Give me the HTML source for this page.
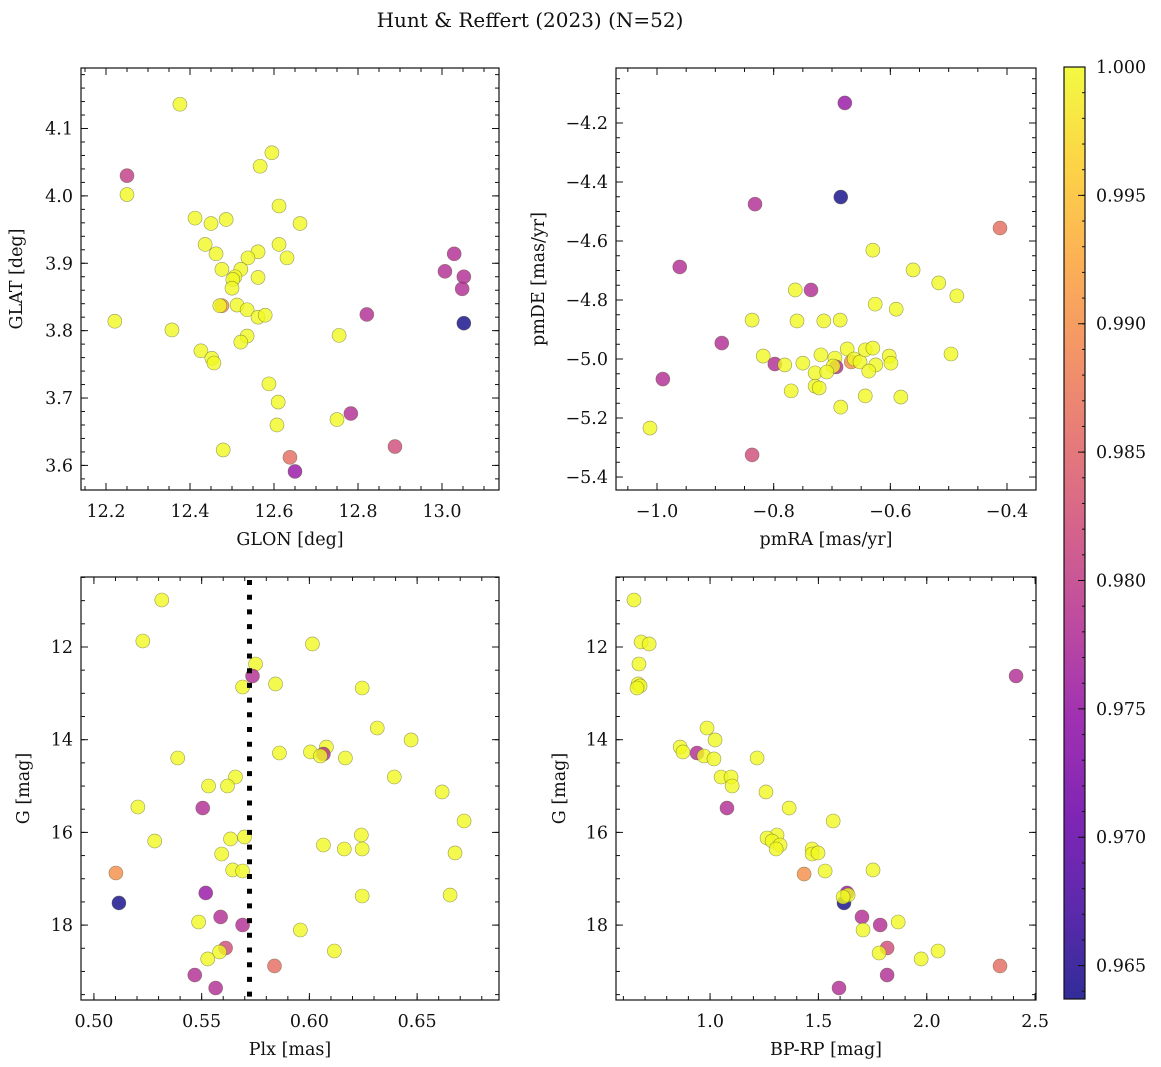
<!DOCTYPE html>
<html><head><meta charset="utf-8"><style>
html,body{margin:0;padding:0;background:#fff;}
svg{display:block;font-family:"DejaVu Serif","Liberation Serif",serif;}
</style></head><body>
<svg id="fig" width="1161" height="1067" viewBox="0 0 1161 1067" xmlns="http://www.w3.org/2000/svg">
<rect width="1161" height="1067" fill="#fff"/>
<text x="530" y="27" font-size="20" text-anchor="middle" fill="#111">Hunt &amp; Reffert (2023) (N=52)</text>
</svg>
<script>
// ---- data ----
const p1Glon=[12.376,12.250,12.250,12.595,12.567,12.612,12.412,12.450,12.486,12.662,12.436,12.462,12.612,12.562,12.538,12.631,12.476,12.521,12.507,12.502,12.562,12.500,12.476,12.471,12.512,12.536,12.562,12.579,12.536,12.521,12.221,12.357,12.426,12.452,12.457,12.588,12.610,12.607,12.479,12.638,12.650,12.755,12.750,12.783,12.821,12.888,13.029,13.007,13.052,13.048,13.052];
const p1Glat=[4.136,4.030,4.002,4.064,4.044,3.985,3.967,3.959,3.965,3.959,3.928,3.914,3.928,3.917,3.908,3.908,3.891,3.891,3.880,3.876,3.879,3.863,3.837,3.837,3.838,3.831,3.820,3.823,3.792,3.783,3.814,3.801,3.770,3.759,3.752,3.721,3.694,3.660,3.623,3.612,3.591,3.793,3.668,3.677,3.824,3.628,3.914,3.888,3.880,3.862,3.811];
const p1Prob=[1,0.980,1,1,1,1,1,1,1,1,1,1,1,1,1,1,1,1,1,1,1,1,0.990,1,1,1,1,1,1,1,1,1,1,1,1,1,1,1,1,0.986,0.975,1,1,0.978,0.978,0.982,0.978,0.978,0.978,0.978,0.9637];

const p2PmRA=[-0.678,-0.685,-0.832,-0.412,-0.630,-0.961,-0.561,-0.517,-0.486,-0.763,-0.736,-0.626,-0.590,-0.837,-0.760,-0.714,-0.686,-0.889,-0.496,-0.818,-0.798,-0.781,-0.750,-0.719,-0.695,-0.693,-0.698,-0.674,-0.667,-0.662,-0.652,-0.643,-0.630,-0.625,-0.637,-0.602,-0.599,-0.729,-0.709,-0.990,-0.729,-0.722,-0.770,-0.643,-0.582,-0.685,-1.012,-0.837];
const p2PmDE=[-4.132,-4.451,-4.475,-4.556,-4.631,-4.688,-4.698,-4.742,-4.786,-4.766,-4.766,-4.814,-4.831,-4.868,-4.871,-4.871,-4.868,-4.946,-4.983,-4.990,-5.017,-5.020,-5.014,-4.986,-4.997,-5.027,-5.024,-4.966,-5.010,-5.000,-5.010,-4.969,-4.963,-5.020,-5.041,-4.990,-5.014,-5.047,-5.044,-5.068,-5.092,-5.098,-5.108,-5.125,-5.129,-5.163,-5.234,-5.325];
const p2Prob=[0.975,0.9637,0.978,0.986,1,0.978,1,1,1,1,0.978,1,1,1,1,1,1,0.978,1,1,0.978,1,1,1,1,0.978,1,1,0.990,1,1,1,1,1,1,1,1,1,1,0.978,1,1,1,1,1,1,1,0.982];

const p3Plx=[0.5315,0.5227,0.6014,0.5750,0.5736,0.5690,0.5843,0.6245,0.6315,0.6472,0.5389,0.5861,0.6005,0.6079,0.6065,0.6051,0.6167,0.5657,0.5620,0.5532,0.6394,0.6616,0.5204,0.5505,0.6718,0.5282,0.5634,0.5699,0.6241,0.6065,0.6162,0.6245,0.6676,0.5593,0.5644,0.5690,0.5102,0.5116,0.5519,0.6245,0.6653,0.5588,0.5486,0.5690,0.5958,0.5611,0.5583,0.6116,0.5528,0.5838,0.5468,0.5565];
const p3G=[10.986,11.871,11.935,12.367,12.626,12.863,12.798,12.885,13.748,14.006,14.395,14.287,14.265,14.158,14.309,14.352,14.395,14.805,14.999,14.999,14.805,15.128,15.452,15.474,15.754,16.186,16.142,16.099,16.056,16.272,16.358,16.358,16.444,16.466,16.811,16.833,16.876,17.523,17.307,17.372,17.351,17.825,17.933,17.998,18.106,18.494,18.580,18.559,18.731,18.882,19.077,19.357];
const p3Prob=[1,1,1,1,0.978,1,1,1,1,1,1,1,1,1,0.978,1,1,1,1,1,1,1,1,0.978,1,1,1,1,1,1,1,1,1,1,1,1,0.990,0.9637,0.975,1,1,0.978,1,0.978,1,0.982,1,1,1,0.986,0.978,0.978];
const meanPlx=0.5722;

const p4BpRp=[0.649,0.682,0.719,0.672,0.668,0.677,0.663,2.412,0.986,1.023,0.862,0.875,0.940,0.972,1.018,1.217,1.051,1.097,1.102,1.258,1.078,1.365,1.568,1.309,1.263,1.286,1.323,1.305,1.471,1.471,1.498,1.434,1.531,1.752,1.632,1.618,1.637,1.614,1.701,1.706,1.785,1.868,1.817,1.780,1.974,2.052,2.338,1.817,1.595];
const p4G=[10.986,11.892,11.935,12.367,12.798,12.841,12.885,12.626,13.748,14.006,14.158,14.265,14.287,14.352,14.416,14.395,14.805,14.805,14.999,15.128,15.474,15.474,15.754,16.056,16.121,16.186,16.272,16.358,16.358,16.466,16.444,16.898,16.833,16.811,17.307,17.523,17.351,17.394,17.825,18.106,17.998,17.933,18.494,18.602,18.731,18.559,18.882,19.077,19.357];
const p4Prob=[1,1,1,1,1,1,1,0.978,1,1,1,1,0.978,1,1,1,1,1,1,1,0.978,1,1,1,1,1,1,1,1,1,1,0.990,1,1,0.975,0.9637,1,1,0.978,1,0.978,1,0.982,1,1,1,0.986,0.978,0.978];

const cbTicks=[1.000,0.995,0.990,0.985,0.980,0.975,0.970,0.965];
const cbMin=0.9637, cbMax=1.0;

// ---- helpers ----
const NS="http://www.w3.org/2000/svg";
const svg=document.getElementById('fig');
const FS=17.5;
function mk(tag,attrs,parent){const e=document.createElementNS(NS,tag);for(const k in attrs)e.setAttribute(k,attrs[k]);(parent||svg).appendChild(e);return e;}
const stops=["#0d0887","#41049d","#6a00a8","#8f0da4","#b12a90","#cc4778","#e16462","#f2844b","#fca636","#fcce25","#f0f921"];
function hex(h){return [1,3,5].map(i=>parseInt(h.substr(i,2),16));}
function plasma(t){t=Math.max(0,Math.min(1,t));const s=t*10,i=Math.min(9,Math.floor(s)),f=s-i;const a=hex(stops[i]),b=hex(stops[i+1]);return "rgb("+a.map((v,k)=>Math.round(v+(b[k]-v)*f)).join(",")+")";}
function pc(p){return plasma((p-cbMin)/(cbMax-cbMin));}
function fmt(v,d){return (v<0?"\u2212":"")+Math.abs(v).toFixed(d);}

function panel(c){
  const g=mk('g',{});
  
  
  const sx=v=>c.L+(v-c.x0)/(c.x1-c.x0)*(c.R-c.L);
  const sy=v=>c.B-(v-c.y0)/(c.y1-c.y0)*(c.B-c.T);
  const pts=mk('g',{},g);
  
  
  for(let i=0;i<c.xs.length;i++){
    const ci=mk('circle',{cx:sx(c.xs[i]),cy:sy(c.ys[i]),r:7,fill:pc(c.ps[i]),'fill-opacity':0.8,stroke:'#5a5a30','stroke-opacity':0.6,'stroke-width':0.6},pts);
    
    
  }
  if(c.extra)c.extra(g,sx,sy);
  const tk=mk('g',{stroke:'#111','stroke-width':1},g);
  
  
  const lo=(a,b)=>Math.min(a,b),hi=(a,b)=>Math.max(a,b);
  function xt(step,len){const a=lo(c.x0,c.x1),b=hi(c.x0,c.x1);for(let v=Math.ceil(a/step-1e-6)*step;v<=b+1e-9;v+=step){const x=sx(v);mk('line',{x1:x,x2:x,y1:c.B,y2:c.B-len},tk);mk('line',{x1:x,x2:x,y1:c.T,y2:c.T+len},tk);}}
  function yt(step,len){const a=lo(c.y0,c.y1),b=hi(c.y0,c.y1);for(let v=Math.ceil(a/step-1e-6)*step;v<=b+1e-9;v+=step){const y=sy(v);mk('line',{x1:c.L,x2:c.L+len,y1:y,y2:y},tk);mk('line',{x1:c.R,x2:c.R-len,y1:y,y2:y},tk);}}
  xt(c.xminor,4);yt(c.yminor,4);xt(c.xmajor,7);yt(c.ymajor,7);
  mk('rect',{x:c.L,y:c.T,width:c.R-c.L,height:c.B-c.T,fill:'none',stroke:'#111','stroke-width':1.2},g);
  c.xticks.forEach(v=>{const t=mk('text',{x:sx(v),y:c.B+27,'font-size':FS,'text-anchor':'middle',fill:'#111'},g);t.textContent=fmt(v,c.xd);});
  c.yticks.forEach(v=>{const t=mk('text',{x:c.L-8,y:sy(v)+6,'font-size':FS,'text-anchor':'end',fill:'#111'},g);t.textContent=fmt(v,c.yd);});
  const xl=mk('text',{x:(c.L+c.R)/2,y:c.B+55,'font-size':FS,'text-anchor':'middle',fill:'#111'},g);xl.textContent=c.xlabel;
  
  const yl=mk('text',{x:0,y:0,'font-size':FS,'text-anchor':'middle',fill:'#111',transform:`translate(${c.ylx},${(c.T+c.B)/2}) rotate(-90)`},g);yl.textContent=c.ylabel;
  
}

panel({name:'glon-glat-panel',L:81,R:499,T:68,B:490,x0:12.1405,x1:13.1357,y0:3.5635,y1:4.1898,xs:p1Glon,ys:p1Glat,ps:p1Prob,
  xmajor:0.2,xminor:0.05,ymajor:0.1,yminor:0.02,xticks:[12.2,12.4,12.6,12.8,13.0],yticks:[3.6,3.7,3.8,3.9,4.0,4.1],xd:1,yd:1,xlabel:'GLON [deg]',ylabel:'GLAT [deg]',ylx:22});
panel({name:'proper-motion-panel',L:616,R:1036,T:68,B:490,x0:-1.0703,x1:-0.3503,y0:-5.444,y1:-4.0136,xs:p2PmRA,ys:p2PmDE,ps:p2Prob,
  xmajor:0.2,xminor:0.05,ymajor:0.2,yminor:0.05,xticks:[-1.0,-0.8,-0.6,-0.4],yticks:[-5.4,-5.2,-5.0,-4.8,-4.6,-4.4,-4.2],xd:1,yd:1,xlabel:'pmRA [mas/yr]',ylabel:'pmDE [mas/yr]',ylx:544});
panel({name:'parallax-mag-panel',L:81,R:499,T:577,B:1000,x0:0.494,x1:0.688,y0:19.616,y1:10.49,xs:p3Plx,ys:p3G,ps:p3Prob,
  xmajor:0.05,xminor:0.01,ymajor:2,yminor:0.5,xticks:[0.50,0.55,0.60,0.65],yticks:[12,14,16,18],xd:2,yd:0,xlabel:'Plx [mas]',ylabel:'G [mag]',ylx:29,
  extra:(g,sx,sy)=>{const l=mk('line',{x1:sx(meanPlx),x2:sx(meanPlx),y1:580,y2:1000,stroke:'#000','stroke-width':5,'stroke-dasharray':'5 9.7'},g);}});
panel({name:'cmd-panel',L:616,R:1036,T:577,B:1000,x0:0.566,x1:2.504,y0:19.616,y1:10.49,xs:p4BpRp,ys:p4G,ps:p4Prob,
  xmajor:0.5,xminor:0.1,ymajor:2,yminor:0.5,xticks:[1.0,1.5,2.0,2.5],yticks:[12,14,16,18],xd:1,yd:0,xlabel:'BP-RP [mag]',ylabel:'G [mag]',ylx:565});

// colorbar
const cb=mk('g',{});


const defs=mk('defs',{},cb);
const lg=mk('linearGradient',{id:'pl',x1:0,y1:1,x2:0,y2:0},defs);
for(let i=0;i<=20;i++)mk('stop',{offset:i/20,'stop-color':plasma(i/20)},lg);
const CT=67,CB=999,CL=1064,CR=1085;
mk('rect',{x:CL,y:CT,width:CR-CL,height:CB-CT,fill:'url(#pl)','fill-opacity':0.85},cb);
const cy=v=>CB-(v-cbMin)/(cbMax-cbMin)*(CB-CT);
for(let v=0.964;v<=1.0001;v+=0.001){const y=cy(v);mk('line',{x1:CR,x2:CR-3,y1:y,y2:y,stroke:'#111'},cb);}
cbTicks.forEach(v=>{const y=cy(v);mk('line',{x1:CR,x2:CR-7,y1:y,y2:y,stroke:'#111'},cb);const t=mk('text',{x:1096,y:y+6,'font-size':FS,fill:'#111'},cb);t.textContent=v.toFixed(3);});
mk('rect',{x:CL,y:CT,width:CR-CL,height:CB-CT,fill:'none',stroke:'#111','stroke-width':1.2},cb);
</script>
</body></html>
